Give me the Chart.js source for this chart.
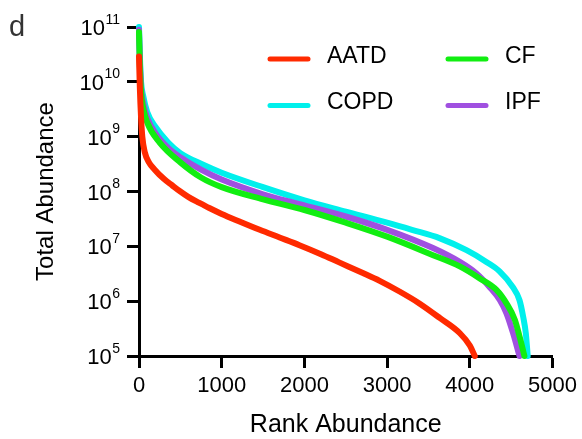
<!DOCTYPE html>
<html>
<head>
<meta charset="utf-8">
<script src="https://cdn.jsdelivr.net/npm/chart.js@4.4.1/dist/chart.umd.min.js"></script>
<style>
  html, body { margin: 0; padding: 0; background: #fff; }
  #wrap { width: 582px; height: 439px; position: relative; }
</style>
</head>
<body>
<div id="wrap"><canvas id="rank-chart"></canvas></div>
<script>
// Данные (ранг -> суммарная численность)
const aatdRank  = [0, 10, 25, 40, 70, 120, 190, 300, 400, 500, 600, 730, 850, 1000, 1200, 1460, 1700, 1940, 2200, 2420, 2700, 2910, 3150, 3390, 3640, 3880, 4000, 4060];
const aatdAbund = [2.9e10, 7.9e9, 2.2e9, 1.0e9, 5.2e8, 3.4e8, 2.5e8, 1.7e8, 1.3e8, 1.0e8, 7.9e7, 6.2e7, 5.0e7, 3.9e7, 2.9e7, 2.0e7, 1.45e7, 1.05e7, 7.2e6, 5.1e6, 3.3e6, 2.35e6, 1.5e6, 9.1e5, 4.9e5, 2.6e5, 1.55e5, 1.0e5];

const cfRank  = [0, 10, 25, 50, 100, 250, 500, 750, 1000, 1500, 2000, 2500, 3000, 3555, 3878, 4120, 4322, 4443, 4544, 4604, 4660];
const cfAbund = [8.1e10, 2.0e10, 6.5e9, 3.4e9, 1.8e9, 7.8e8, 3.4e8, 1.8e8, 1.2e8, 7.2e7, 4.6e7, 2.7e7, 1.5e7, 6.9e6, 4.3e6, 2.6e6, 1.6e6, 9.1e5, 4.6e5, 2.2e5, 1.0e5];

const ipfRank  = [0, 10, 25, 50, 100, 200, 350, 500, 750, 1000, 1500, 2000, 2500, 3000, 3555, 3878, 4080, 4241, 4362, 4443, 4523, 4600];
const ipfAbund = [8.9e10, 2.5e10, 7.9e9, 4.2e9, 2.2e9, 1.15e9, 6.3e8, 4.2e8, 2.5e8, 1.65e8, 8.9e7, 5.6e7, 3.5e7, 2.0e7, 9.3e6, 5.2e6, 3.2e6, 1.8e6, 1.05e6, 6.0e5, 2.6e5, 1.0e5];

const copdRank  = [0, 10, 25, 50, 100, 200, 350, 500, 750, 1000, 1500, 2000, 2500, 3000, 3300, 3640, 3960, 4200, 4360, 4520, 4600, 4645, 4677, 4700];
const copdAbund = [1.0e11, 3.2e10, 1.0e10, 5.6e9, 2.8e9, 1.5e9, 7.9e8, 5.0e8, 3.2e8, 2.2e8, 1.2e8, 6.9e7, 4.3e7, 2.7e7, 2.0e7, 1.4e7, 8.5e6, 5.2e6, 3.5e6, 1.8e6, 1.05e6, 5.2e5, 2.6e5, 1.0e5];

const xTicks = [0, 1000, 2000, 3000, 4000, 5000];
const yTicks = [1e5, 1e6, 1e7, 1e8, 1e9, 1e10, 1e11];

const FONT = '"Liberation Sans", Arial, Helvetica, sans-serif';

function toPoints(ranks, values) {
    return ranks.map((r, i) => ({ x: r, y: values[i] }));
}

function lineSet(label, ranks, values, color) {
    return {
        label: label,
        data: toPoints(ranks, values),
        borderColor: color,
        backgroundColor: color,
        borderWidth: 6,
        borderCapStyle: 'round',
        borderJoinStyle: 'round',
        pointRadius: 0,
        cubicInterpolationMode: 'monotone',
        clip: false
    };
}

// Подписи 10^n, легенда и буква панели рисуются поверх
const decorPlugin = {
    id: 'decor',
    afterDraw(chart) {
        const ctx = chart.ctx;
        const yScale = chart.scales.y;
        const area = chart.chartArea;
        ctx.save();
        ctx.fillStyle = '#000';
        ctx.textBaseline = 'alphabetic';
        ctx.textAlign = 'right';
        const labelRight = yScale.right - 19;
        yTicks.forEach(v => {
            const py = yScale.getPixelForValue(v);
            const exp = String(Math.round(Math.log10(v)));
            ctx.font = '14px ' + FONT;
            const ew = ctx.measureText(exp).width;
            ctx.fillText(exp, labelRight, py - 3.5);
            ctx.font = '22px ' + FONT;
            ctx.fillText('10', labelRight - ew - 0.5, py + 8);
        });

        // легенда в две колонки
        const items = chart.data.datasets.map(ds => ({ label: ds.label, color: ds.borderColor }));
        const order = ['AATD', 'CF', 'COPD', 'IPF'];
        ctx.textAlign = 'left';
        ctx.font = '23px ' + FONT;
        ctx.lineCap = 'round';
        ctx.lineWidth = 5;
        order.forEach((name, i) => {
            const it = items.find(d => d.label === name);
            const col = i % 2, row = Math.floor(i / 2);
            const lx = area.left + 131 + col * 178;
            const ly = area.top + 32 + row * 46.5;
            ctx.strokeStyle = it.color;
            ctx.beginPath();
            ctx.moveTo(lx, ly);
            ctx.lineTo(lx + 38, ly);
            ctx.stroke();
            ctx.fillStyle = '#000';
            ctx.fillText(it.label, lx + 57, ly + 3.5);
        });

        ctx.fillStyle = '#333';
        ctx.font = '29px ' + FONT;
        ctx.fillText('d', 9, 36);
        ctx.restore();
    }
};

document.addEventListener('DOMContentLoaded', () => {
    Chart.defaults.font.family = FONT;
    Chart.defaults.color = '#000';

    const ctx = document.getElementById('rank-chart').getContext('2d');
    new Chart(ctx, {
        type: 'line',
        data: {
            datasets: [
                lineSet('AATD', aatdRank, aatdAbund, '#ff2a00'),
                lineSet('CF', cfRank, cfAbund, '#11ee11'),
                lineSet('IPF', ipfRank, ipfAbund, '#a050e0'),
                lineSet('COPD', copdRank, copdAbund, '#00f0ec')
            ]
        },
        options: {
            responsive: true,
            maintainAspectRatio: false,
            devicePixelRatio: 1,
            animation: false,
            layout: { padding: { left: 0, right: 29, top: 27, bottom: 0 } },
            plugins: {
                legend: { display: false },
                tooltip: { enabled: false }
            },
            scales: {
                x: {
                    type: 'linear',
                    min: 0,
                    max: 5000,
                    afterBuildTicks: scale => { scale.ticks = xTicks.map(v => ({ value: v })); },
                    afterFit: scale => { scale.height = 83; },
                    ticks: {
                        color: '#000',
                        font: { size: 22, lineHeight: 1.2 },
                        padding: 5,
                        maxRotation: 0,
                        callback: value => String(value)
                    },
                    grid: {
                        drawOnChartArea: false,
                        drawTicks: true,
                        tickLength: 12,
                        tickWidth: 3,
                        tickColor: '#000'
                    },
                    border: { display: true, width: 3, color: '#000' },
                    title: {
                        display: true,
                        text: 'Rank Abundance',
                        color: '#000',
                        font: { size: 25, lineHeight: 1 },
                        padding: { top: 0, bottom: 1 }
                    }
                },
                y: {
                    type: 'logarithmic',
                    min: 1e5,
                    max: 1e11,
                    afterBuildTicks: scale => { scale.ticks = yTicks.map(v => ({ value: v })); },
                    afterFit: scale => { scale.width = 139; },
                    ticks: { display: false },
                    grid: {
                        drawOnChartArea: false,
                        drawTicks: true,
                        tickLength: 12,
                        tickWidth: 3,
                        tickColor: '#000'
                    },
                    border: { display: true, width: 3, color: '#000' },
                    title: {
                        display: true,
                        text: 'Total Abundance',
                        color: '#000',
                        font: { size: 24, lineHeight: 1 },
                        padding: { top: 34, bottom: 0 }
                    }
                }
            }
        },
        plugins: [decorPlugin]
    });
});
</script>
</body>
</html>
